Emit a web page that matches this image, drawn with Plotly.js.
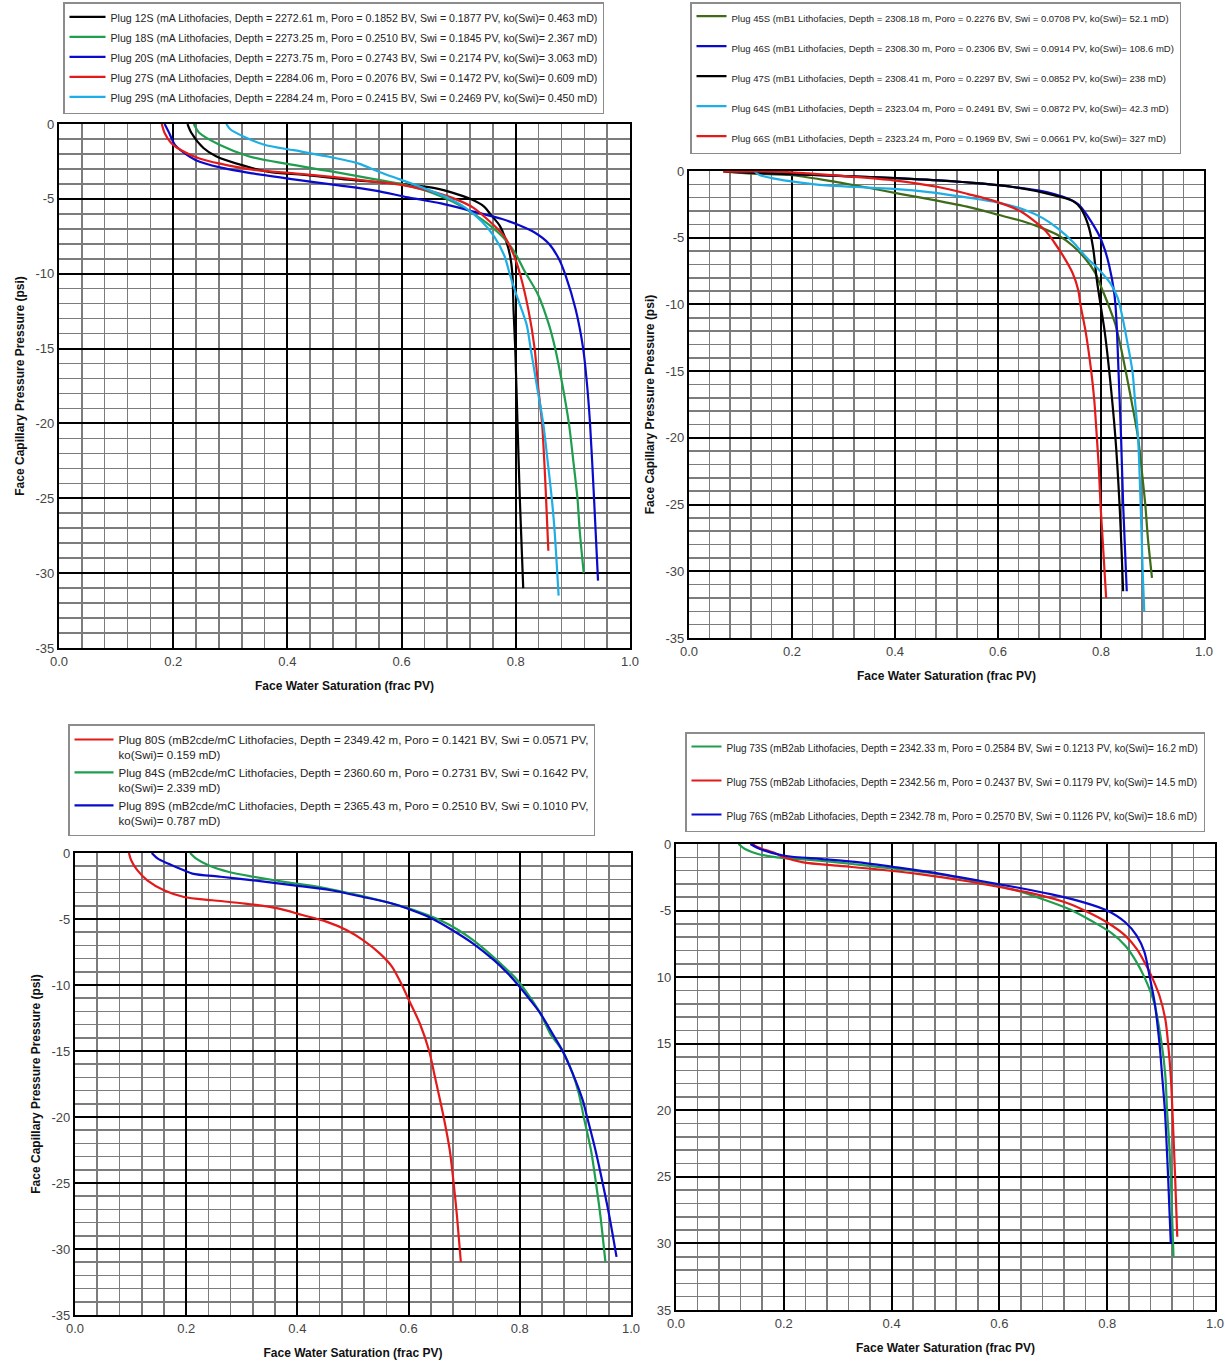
<!DOCTYPE html>
<html>
<head>
<meta charset="utf-8">
<script src="https://cdn.plot.ly/plotly-3.0.1.min.js"></script>
<style>html,body{margin:0;padding:0;background:#fff;}#chart{width:1225px;height:1361px;}</style>
</head>
<body>
<div id="chart"></div>
<script>
// ---------- Panel 1 (mA Lithofacies) ----------
var names1 = [
  "Plug 12S (mA Lithofacies, Depth = 2272.61 m, Poro = 0.1852 BV, Swi = 0.1877 PV, ko(Swi)= 0.463 mD)",
  "Plug 18S (mA Lithofacies, Depth = 2273.25 m, Poro = 0.2510 BV, Swi = 0.1845 PV, ko(Swi)= 2.367 mD)",
  "Plug 20S (mA Lithofacies, Depth = 2273.75 m, Poro = 0.2743 BV, Swi = 0.2174 PV, ko(Swi)= 3.063 mD)",
  "Plug 27S (mA Lithofacies, Depth = 2284.06 m, Poro = 0.2076 BV, Swi = 0.1472 PV, ko(Swi)= 0.609 mD)",
  "Plug 29S (mA Lithofacies, Depth = 2284.24 m, Poro = 0.2415 BV, Swi = 0.2469 PV, ko(Swi)= 0.450 mD)"
];
var sw12 = [0.225,0.232,0.253,0.275,0.325,0.368,0.43,0.50,0.597,0.66,0.69,0.72,0.744,0.755,0.772,0.783,0.79,0.794,0.796,0.799,0.803,0.807,0.813];
var pc12 = [0,-0.6,-1.6,-2.15,-2.8,-3.2,-3.4,-3.7,-4.0,-4.3,-4.6,-5.0,-5.5,-6.0,-6.8,-7.8,-8.8,-10,-12.4,-15,-20,-25,-31];
var sw18 = [0.236,0.246,0.282,0.332,0.397,0.482,0.554,0.604,0.654,0.69,0.726,0.754,0.776,0.797,0.815,0.839,0.858,0.869,0.882,0.893,0.901,0.908,0.912,0.919];
var pc18 = [0,-0.6,-1.4,-2.15,-2.65,-3.2,-3.7,-4.05,-4.6,-5.2,-6.0,-6.75,-7.5,-8.5,-9.8,-11.4,-13.4,-15,-17.5,-20,-22.6,-25,-27.2,-30];
var sw20 = [0.185,0.193,0.203,0.218,0.239,0.282,0.339,0.411,0.49,0.554,0.611,0.669,0.726,0.776,0.805,0.833,0.858,0.876,0.887,0.905,0.918,0.925,0.930,0.937,0.944];
var pc20 = [0,-0.6,-1.4,-1.9,-2.4,-2.9,-3.3,-3.7,-4.1,-4.45,-4.9,-5.3,-5.85,-6.35,-6.75,-7.25,-8.0,-9.05,-10.1,-12.4,-15,-17.5,-20,-25,-30.5];
var sw27 = [0.180,0.185,0.196,0.214,0.246,0.282,0.339,0.411,0.482,0.54,0.597,0.647,0.69,0.726,0.754,0.78,0.797,0.808,0.822,0.833,0.839,0.846,0.85,0.853,0.857];
var pc27 = [0,-0.6,-1.25,-1.75,-2.3,-2.65,-3.05,-3.3,-3.55,-3.8,-4.05,-4.45,-4.95,-5.6,-6.5,-7.5,-8.8,-10.1,-12.4,-15,-17.5,-20,-22.6,-25,-28.5];
var sw29 = [0.293,0.30,0.325,0.361,0.411,0.468,0.525,0.561,0.597,0.633,0.676,0.712,0.74,0.762,0.78,0.79,0.801,0.819,0.826,0.837,0.848,0.856,0.863,0.868,0.875];
var pc29 = [0,-0.35,-0.87,-1.4,-1.75,-2.15,-2.65,-3.2,-3.7,-4.2,-4.85,-5.6,-6.5,-7.5,-8.8,-10.1,-11.4,-13.4,-15,-17.5,-20,-22.6,-25,-27.2,-31.5];

// ---------- Panel 2 (mB1 Lithofacies) ----------
var names2 = [
  "Plug 45S (mB1 Lithofacies, Depth = 2308.18 m, Poro = 0.2276 BV, Swi = 0.0708 PV, ko(Swi)= 52.1 mD)",
  "Plug 46S (mB1 Lithofacies, Depth = 2308.30 m, Poro = 0.2306 BV, Swi = 0.0914 PV, ko(Swi)= 108.6 mD)",
  "Plug 47S (mB1 Lithofacies, Depth = 2308.41 m, Poro = 0.2297 BV, Swi = 0.0852 PV, ko(Swi)= 238 mD)",
  "Plug 64S (mB1 Lithofacies, Depth = 2323.04 m, Poro = 0.2491 BV, Swi = 0.0872 PV, ko(Swi)= 42.3 mD)",
  "Plug 66S (mB1 Lithofacies, Depth = 2323.24 m, Poro = 0.1969 BV, Swi = 0.0661 PV, ko(Swi)= 327 mD)"
];
var sw45 = [0.072,0.122,0.195,0.267,0.34,0.412,0.484,0.55,0.60,0.651,0.687,0.716,0.745,0.77,0.789,0.803,0.814,0.828,0.839,0.848,0.859,0.872,0.879,0.886,0.891,0.899];
var pc45 = [-0.05,-0.2,-0.3,-0.7,-1.2,-1.73,-2.24,-2.76,-3.28,-3.8,-4.3,-4.8,-5.6,-6.6,-7.66,-8.95,-10,-11.5,-13.3,-15,-17.2,-20,-22.4,-25,-27.5,-30.5];
var sw46 = [0.075,0.159,0.34,0.484,0.571,0.629,0.68,0.709,0.738,0.756,0.767,0.781,0.796,0.807,0.816,0.825,0.828,0.831,0.834,0.839,0.843,0.85];
var pc46 = [-0.05,-0.18,-0.44,-0.7,-0.95,-1.2,-1.47,-1.73,-2.1,-2.5,-3.0,-3.8,-4.8,-5.85,-7.1,-8.95,-10,-12,-15,-20,-25,-31.5];
var sw47 = [0.068,0.159,0.34,0.484,0.571,0.629,0.70,0.745,0.76,0.77,0.777,0.785,0.792,0.799,0.807,0.816,0.828,0.836,0.843];
var pc47 = [-0.05,-0.18,-0.44,-0.7,-0.95,-1.2,-1.73,-2.24,-2.76,-3.5,-4.3,-5.85,-8.2,-10,-12,-15,-20,-25,-31.5];
var sw64 = [0.126,0.137,0.166,0.209,0.267,0.325,0.397,0.47,0.542,0.60,0.651,0.687,0.716,0.745,0.77,0.796,0.818,0.832,0.839,0.85,0.861,0.866,0.872,0.877,0.881,0.884];
var pc64 = [0,-0.3,-0.57,-0.83,-1.08,-1.2,-1.34,-1.6,-2.0,-2.37,-2.9,-3.53,-4.3,-5.3,-6.4,-7.4,-8.4,-9.45,-10.5,-12.6,-15,-17.2,-20,-25,-30.1,-33];
var sw66 = [0.066,0.173,0.231,0.303,0.397,0.484,0.542,0.592,0.643,0.672,0.694,0.709,0.727,0.745,0.756,0.76,0.77,0.781,0.787,0.792,0.796,0.799,0.803,0.81];
var pc66 = [-0.05,-0.05,-0.18,-0.39,-0.7,-1.2,-1.73,-2.24,-3.0,-3.8,-4.56,-5.34,-6.4,-7.66,-8.95,-10,-12,-15,-17.2,-20,-22.4,-25,-27.5,-32];

// ---------- Panel 3 (mB2cde/mC Lithofacies) ----------
var names3 = [
  "Plug 80S (mB2cde/mC Lithofacies, Depth = 2349.42 m, Poro = 0.1421 BV, Swi = 0.0571 PV,<br>ko(Swi)= 0.159 mD)",
  "Plug 84S (mB2cde/mC Lithofacies, Depth = 2360.60 m, Poro = 0.2731 BV, Swi = 0.1642 PV,<br>ko(Swi)= 2.339 mD)",
  "Plug 89S (mB2cde/mC Lithofacies, Depth = 2365.43 m, Poro = 0.2510 BV, Swi = 0.1010 PV,<br>ko(Swi)= 0.787 mD)"
];
var sw80 = [0.097,0.101,0.112,0.13,0.16,0.196,0.247,0.306,0.365,0.409,0.452,0.489,0.518,0.548,0.57,0.588,0.60,0.62,0.637,0.646,0.663,0.674,0.681,0.687,0.694];
var pc80 = [0,-0.55,-1.3,-2.07,-2.82,-3.33,-3.58,-3.83,-4.2,-4.7,-5.2,-5.85,-6.6,-7.6,-8.6,-10,-11.1,-12.9,-15,-16.7,-20,-22.5,-25,-27.5,-31];
var sw84 = [0.207,0.218,0.24,0.277,0.321,0.379,0.438,0.496,0.548,0.591,0.628,0.657,0.69,0.716,0.745,0.771,0.795,0.818,0.837,0.855,0.877,0.895,0.906,0.915,0.928,0.937,0.945,0.954];
var pc84 = [0,-0.43,-0.93,-1.44,-1.8,-2.2,-2.57,-3.07,-3.58,-4.08,-4.6,-5.1,-5.85,-6.6,-7.6,-8.6,-9.6,-10.9,-12.15,-13.7,-15,-16.7,-18.2,-20,-22.5,-25,-27.5,-31];
var sw89 = [0.138,0.149,0.167,0.189,0.211,0.262,0.321,0.394,0.46,0.518,0.57,0.606,0.642,0.679,0.716,0.753,0.778,0.797,0.818,0.837,0.859,0.877,0.895,0.913,0.921,0.936,0.949,0.961,0.974];
var pc89 = [0,-0.43,-0.8,-1.19,-1.56,-1.8,-2.07,-2.45,-2.82,-3.33,-3.83,-4.34,-4.96,-5.85,-6.86,-8.1,-9.1,-10,-11.1,-12.15,-13.7,-15,-16.7,-18.7,-20,-22.5,-25,-27.5,-30.6];

// ---------- Panel 4 (mB2ab Lithofacies) ----------
var names4 = [
  "Plug 73S (mB2ab Lithofacies, Depth = 2342.33 m, Poro = 0.2584 BV, Swi = 0.1213 PV, ko(Swi)= 16.2 mD)",
  "Plug 75S (mB2ab Lithofacies, Depth = 2342.56 m, Poro = 0.2437 BV, Swi = 0.1179 PV, ko(Swi)= 14.5 mD)",
  "Plug 76S (mB2ab Lithofacies, Depth = 2342.78 m, Poro = 0.2570 BV, Swi = 0.1126 PV, ko(Swi)= 18.6 mD)"
];
var sw73 = [0.116,0.128,0.152,0.187,0.243,0.299,0.354,0.41,0.466,0.521,0.577,0.633,0.681,0.73,0.772,0.807,0.834,0.852,0.869,0.887,0.901,0.908,0.911,0.915,0.918,0.92,0.923];
var pc73 = [0,-0.38,-0.75,-1.0,-1.18,-1.38,-1.63,-1.88,-2.14,-2.5,-3.0,-3.5,-4.15,-4.9,-5.8,-6.66,-7.66,-8.7,-10,-11.9,-15,-17.45,-20,-22.5,-25,-27.5,-31];
var sw75 = [0.142,0.152,0.18,0.2,0.236,0.299,0.368,0.452,0.535,0.605,0.667,0.723,0.758,0.80,0.834,0.855,0.873,0.883,0.897,0.908,0.913,0.918,0.921,0.926,0.93];
var pc75 = [0,-0.25,-0.63,-1.0,-1.38,-1.63,-1.88,-2.26,-2.76,-3.27,-3.77,-4.4,-5.0,-5.9,-6.9,-7.9,-9.17,-10,-11.4,-13.2,-15,-17.45,-20,-25,-29.5];
var sw76 = [0.138,0.156,0.201,0.271,0.34,0.41,0.493,0.563,0.633,0.695,0.758,0.80,0.834,0.855,0.869,0.879,0.888,0.897,0.902,0.907,0.913,0.918];
var pc76 = [0,-0.38,-0.88,-1.13,-1.38,-1.76,-2.26,-2.76,-3.27,-3.77,-4.4,-5.0,-5.9,-6.9,-8.1,-10,-11.9,-15,-17.45,-20,-25,-30];

// ---------- Tick labels ----------
var xTickVals = [0,0.2,0.4,0.6,0.8,1.0];
var xTickText = ["0.0","0.2","0.4","0.6","0.8","1.0"];
var yTickVals = [0,-5,-10,-15,-20,-25,-30,-35];
var yTickText = ["0","-5","-10","-15","-20","-25","-30","-35"];
var yTickText4 = ["0","-5","10","15","20","25","30","35"];

var xTitle = "Face Water Saturation (frac PV)";
var yTitle = "Face Capillary Pressure Pressure (psi)";

// ---------- Styling ----------
var FONT = "Liberation Sans, Arial, Helvetica, sans-serif";
var C = {black:"#000000", green:"#1e9e4e", blue:"#0a0acc", red:"#e41a1a", cyan:"#1eaee6", olive:"#3d6b18"};

function tr(x, y, name, color, xa, ya, leg) {
  return {x:x, y:y, name:name, type:"scatter", mode:"lines",
    line:{color:color, width:2.2, shape:"spline", smoothing:0.8},
    xaxis:xa, yaxis:ya, legend:leg, legendgroup:name, hoverinfo:"x+y+name"};
}

var data = [
  tr(sw12,pc12,names1[0],C.black,"x","y","legend"),
  tr(sw18,pc18,names1[1],C.green,"x","y","legend"),
  tr(sw20,pc20,names1[2],C.blue,"x","y","legend"),
  tr(sw27,pc27,names1[3],C.red,"x","y","legend"),
  tr(sw29,pc29,names1[4],C.cyan,"x","y","legend"),
  tr(sw45,pc45,names2[0],C.olive,"x2","y2","legend2"),
  tr(sw46,pc46,names2[1],C.blue,"x2","y2","legend2"),
  tr(sw47,pc47,names2[2],C.black,"x2","y2","legend2"),
  tr(sw64,pc64,names2[3],C.cyan,"x2","y2","legend2"),
  tr(sw66,pc66,names2[4],C.red,"x2","y2","legend2"),
  tr(sw80,pc80,names3[0],C.red,"x3","y3","legend3"),
  tr(sw84,pc84,names3[1],C.green,"x3","y3","legend3"),
  tr(sw89,pc89,names3[2],C.blue,"x3","y3","legend3"),
  tr(sw73,pc73,names4[0],C.green,"x4","y4","legend4"),
  tr(sw75,pc75,names4[1],C.red,"x4","y4","legend4"),
  tr(sw76,pc76,names4[2],C.blue,"x4","y4","legend4")
];

var W = 1225, H = 1361;
function xax(l, r, anchor) {
  return {domain:[l/W, r/W], range:[0,1], anchor:anchor, tickmode:"array", tickvals:xTickVals, ticktext:xTickText,
    showgrid:true, gridcolor:"#000", gridwidth:2, zeroline:false,
    minor:{dtick:0.04, tick0:0, showgrid:true, gridcolor:"#7c7c7c", gridwidth:1.6},
    showline:true, mirror:true, linecolor:"#000", linewidth:2.2, ticks:"",
    tickfont:{family:FONT, size:13, color:"#444"},
    title:{text:"<b>"+xTitle+"</b>", font:{family:FONT, size:12, color:"#111"}, standoff:14},
    automargin:false, fixedrange:true};
}
function yax(top, bot, anchor, tt, withTitle) {
  var a = {domain:[1-bot/H, 1-top/H], range:[-35,0], anchor:anchor, tickmode:"array", tickvals:yTickVals, ticktext:tt,
    showgrid:true, gridcolor:"#000", gridwidth:2, zeroline:false,
    minor:{dtick:1, tick0:0, showgrid:true, gridcolor:"#7c7c7c", gridwidth:1.6},
    showline:true, mirror:true, linecolor:"#000", linewidth:2.2, ticks:"",
    tickfont:{family:FONT, size:13, color:"#444"},
    automargin:false, fixedrange:true};
  if (withTitle) a.title = {text:"<b>"+yTitle+"</b>", font:{family:FONT, size:12, color:"#111"}};
  return a;
}
function leg(x, y, gap, size, iw) {
  return {x:x/W, y:1-y/H, xanchor:"left", yanchor:"top", bgcolor:"#fff", bordercolor:"#8c8c8c", borderwidth:1.5,
    font:{family:FONT, size:size, color:"#222"}, traceorder:"grouped", tracegroupgap:gap, valign:"top", itemwidth:iw};
}

var layout = {
  width:W, height:H, margin:{l:0, r:0, t:0, b:0}, paper_bgcolor:"#fff", plot_bgcolor:"#fff",
  showlegend:true,
  xaxis: xax(59, 630, "y"),   yaxis: yax(124, 648, "x", yTickText, true),
  xaxis2: xax(689, 1204, "y2"), yaxis2: yax(171, 638, "x2", yTickText, true),
  xaxis3: xax(75, 631, "y3"),  yaxis3: yax(853, 1315, "x3", yTickText, true),
  xaxis4: xax(676, 1215, "y4"), yaxis4: yax(844, 1310, "x4", yTickText4, false),
  legend: leg(63, 2, 1, 10.6, 36),
  legend2: leg(690, 2, 11, 9.5, 30),
  legend3: leg(68, 724, 0, 11.5, 39),
  legend4: leg(685, 732, 15, 10, 30)
};

Plotly.newPlot("chart", data, layout, {displayModeBar:false, staticPlot:true});
</script>
</body>
</html>
